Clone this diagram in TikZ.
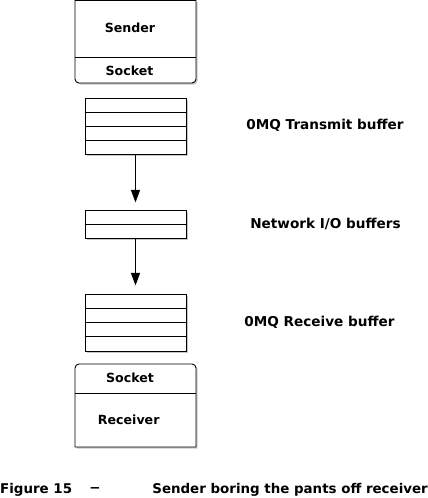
\documentclass[tikz,border=0pt]{standalone}
\usepackage{fontspec}
\setmainfont{DejaVu Sans}
\usetikzlibrary{arrows.meta,shadows}
\tikzset{
  shad/.style={drop shadow={shadow xshift=1.6pt,shadow yshift=-1.6pt,fill=black,opacity=0.22}},
  buf/.style={draw=black,line width=0.9pt,fill=white,minimum width=101pt,inner sep=0pt,shad},
  rowline/.style={line width=0.9pt},
  outline/.style={draw=black,line width=0.9pt,fill=white,shad},
  lbl/.style={font=\fontsize{12.6}{14}\selectfont\bfseries,inner sep=0pt},
  side/.style={font=\fontsize{13.6}{15}\selectfont\bfseries,inner sep=0pt},
  capt/.style={font=\fontsize{13.4}{15}\selectfont\bfseries,inner sep=0pt},
  flow/.style={line width=0.9pt,-{Triangle[width=9pt,length=12.5pt]}}
}
\begin{document}
\begin{tikzpicture}[x=1pt,y=1pt]
\useasboundingbox (0,0) rectangle (428,498);
% Sender box
\path[outline] (196,497.5) -- (75,497.5) -- (75,419) arc[start angle=180,end angle=270,radius=4] -- (192,415) arc[start angle=270,end angle=360,radius=4] -- cycle;
\draw[rowline] (75,441) -- (196,441);
\node[lbl] (sender) at (130,470) {Sender};
\node[lbl] (ssock) at (129.5,427.5) {Socket};
% Transmit buffer
\node[buf,minimum height=56pt] (tx) at (135.5,372) {};
\foreach \y in {386,372,358} \draw[rowline] (tx.west |- 0,\y) -- (tx.east |- 0,\y);
% Network buffer
\node[buf,minimum height=28pt] (net) at (135.5,274) {};
\draw[rowline] (net.west) -- (net.east);
% Receive buffer
\node[buf,minimum height=57pt] (rx) at (135.5,175.5) {};
\foreach \y in {189.75,175.5,161.25} \draw[rowline] (rx.west |- 0,\y) -- (rx.east |- 0,\y);
% Receiver box
\path[outline] (75,51) -- (75,130) arc[start angle=180,end angle=90,radius=4] -- (192,134) arc[start angle=90,end angle=0,radius=4] -- (196,51) -- cycle;
\draw[rowline] (75,105) -- (196,105);
\node[lbl] (rsock) at (130,120) {Socket};
\node[lbl] (receiver) at (128.7,78) {Receiver};
% arrows
\draw[flow] (tx.south) -- ([yshift=-48pt]tx.south) coordinate (a1);
\draw[flow] (net.south) -- ([yshift=-47pt]net.south) coordinate (a2);
% side labels
\node[side] (ltx) at (325,373) {0MQ Transmit buffer};
\node[side] (lnet) at (325.5,274) {Network I/O buffers};
\node[side] (lrx) at (319.5,176) {0MQ Receive buffer};
% caption
\node[capt,anchor=west] (fig) at (0,8) {Figure 15};
\node[capt] (dash) at (95,8) {−};
\node[capt,anchor=east] (cap) at (428,8) {Sender boring the pants off receiver};
\end{tikzpicture}
\end{document}
